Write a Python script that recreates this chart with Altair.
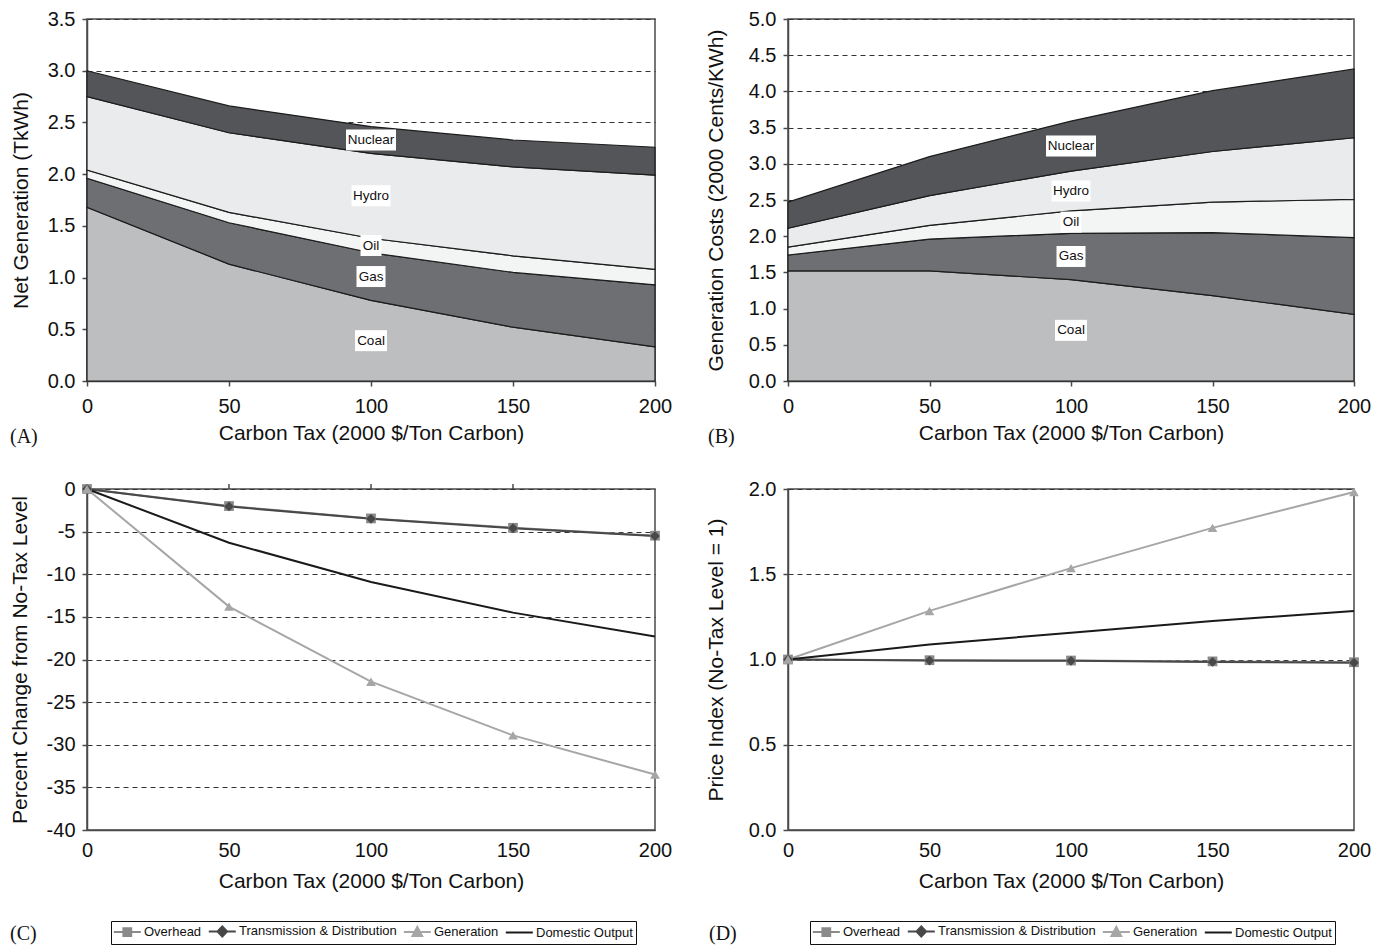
import altair as alt
import pandas as pd

# ---------------- data ----------------
tax = [0, 50, 100, 150, 200]
fuels = ["Coal", "Gas", "Oil", "Hydro", "Nuclear"]

# (A) Net generation, TkWh, stacked
gen_coal = [1.68, 1.13, 0.78, 0.52, 0.33]
gen_gas = [0.28, 0.40, 0.46, 0.53, 0.60]
gen_oil = [0.08, 0.10, 0.14, 0.16, 0.15]
gen_hydro = [0.71, 0.77, 0.82, 0.86, 0.91]
gen_nuclear = [0.25, 0.26, 0.26, 0.26, 0.27]

# (B) Generation costs, 2000 cents/kWh, stacked
cost_coal = [1.52, 1.52, 1.40, 1.18, 0.92]
cost_gas = [0.22, 0.44, 0.64, 0.87, 1.06]
cost_oil = [0.11, 0.19, 0.31, 0.42, 0.53]
cost_hydro = [0.26, 0.41, 0.55, 0.70, 0.85]
cost_nuclear = [0.36, 0.54, 0.69, 0.84, 0.95]

series = ["Overhead", "Transmission & Distribution", "Generation", "Domestic Output"]

# (C) Percent change from no-tax level
pct_overhead = [0, -2.0, -3.45, -4.55, -5.48]
pct_td = [0, -2.05, -3.5, -4.6, -5.52]
pct_generation = [0, -13.8, -22.6, -28.9, -33.5]
pct_domestic = [0, -6.3, -10.9, -14.5, -17.3]

# (D) Price index (no-tax level = 1)
idx_overhead = [1.0, 0.996, 0.994, 0.989, 0.984]
idx_td = [1.0, 0.994, 0.992, 0.986, 0.981]
idx_generation = [1.0, 1.285, 1.536, 1.772, 1.982]
idx_domestic = [1.0, 1.088, 1.157, 1.226, 1.285]

x_ticks = [0, 50, 100, 150, 200]
c_top_ticks = [50, 100, 150]
gen_ticks = [0, 0.5, 1.0, 1.5, 2.0, 2.5, 3.0, 3.5]
cost_ticks = [0, 0.5, 1.0, 1.5, 2.0, 2.5, 3.0, 3.5, 4.0, 4.5, 5.0]
pct_ticks = [-40, -35, -30, -25, -20, -15, -10, -5, 0]
idx_ticks = [0, 0.5, 1.0, 1.5, 2.0]

# ---------------- styles ----------------
SANS = "Liberation Sans"
SERIF = "Liberation Serif"
AXIS_COLOR = "#4a4a4a"
FUEL_COLORS = ["#bdbec0", "#6e6f72", "#f3f4f4", "#eaebec", "#545558"]
BOX_W = {"Coal": 32, "Gas": 29, "Oil": 21, "Hydro": 39, "Nuclear": 50}
SER_COLORS = ["#8a8a8a", "#484848", "#a6a6a6", "#1a1a1a"]
SER_SHAPES = ["square", "diamond", "triangle-up"]
LEG_PATHS = [
    "M-1.2,0L3.3,0M0.4,-0.65L1.7,-0.65L1.7,0.65L0.4,0.65Z",
    "M-1.2,0L3.3,0M1.05,-0.85L1.85,0L1.05,0.85L0.25,0Z",
    "M-1.2,0L3.3,0M1.05,-0.85L1.85,0.65L0.25,0.65Z",
    "M-1.2,0L3.3,0",
]
XTITLE = "Carbon Tax (2000 $/Ton Carbon)"
XSCALE = alt.Scale(domain=[0, 200], nice=False)


def x_enc(show=True, ticks=True, title_pad=6):
    if not show:
        return alt.X("tax:Q", scale=XSCALE, axis=None)
    return alt.X(
        "tax:Q", scale=XSCALE,
        axis=alt.Axis(values=x_ticks, title=XTITLE, grid=False, labelFlush=False,
                      format="d", orient="bottom", ticks=ticks, titlePadding=title_pad),
    )


def y_axis(yticks, ytitle, title_x, h, fmt=".1f", expr=None):
    kw = dict(values=yticks, title=ytitle, grid=True, labelFlush=False,
              titleX=title_x, titleY=h / 2, titleBaseline="middle", titleAngle=270)
    if expr:
        kw["labelExpr"] = expr
    else:
        kw["format"] = fmt
    return alt.Axis(**kw)


def tag_layer(tag, dx, dy):
    return alt.Chart(pd.DataFrame({"t": [tag]})).mark_text(
        align="left", baseline="middle", font=SERIF, fontSize=20, color="#111"
    ).encode(x=alt.value(dx), y=alt.value(dy), text="t:N")


def stack_frames(cols):
    rows, labs, cum = [], [], 0.0
    for k, f in enumerate(fuels):
        for t, v in zip(tax, cols[k]):
            rows.append({"tax": t, "value": v, "fuel": f, "order": k})
        mid_v = cols[k][2]
        labs.append({"tax": tax[2], "value": cum + mid_v / 2, "fuel": f})
        cum += mid_v
    return pd.DataFrame(rows), pd.DataFrame(labs)


def area_panel(cols, ytitle, yticks, ymax, w, h, tag, tag_dx, tag_dy, title_x):
    df, lab = stack_frames(cols)
    ys = alt.Scale(domain=[0, ymax], nice=False)
    yaxis = y_axis(yticks, ytitle, title_x, h)
    area = alt.Chart(df).mark_area(stroke="#1c1c1c", strokeWidth=1.2).encode(
        x=x_enc(),
        y=alt.Y("value:Q", stack="zero", scale=ys, axis=yaxis),
        color=alt.Color("fuel:N", scale=alt.Scale(domain=fuels, range=FUEL_COLORS), legend=None),
        order=alt.Order("order:Q", sort="ascending"),
    )
    layers = [area]
    for f in fuels:
        layers.append(
            alt.Chart(lab[lab.fuel == f]).mark_rect(width=BOX_W[f], height=21, color="white").encode(
                x=x_enc(), y=alt.Y("value:Q", scale=ys, axis=yaxis)
            )
        )
    layers.append(
        alt.Chart(lab).mark_text(font=SANS, fontSize=13.5, color="#111").encode(
            x=x_enc(), y=alt.Y("value:Q", scale=ys, axis=yaxis), text="fuel:N"
        )
    )
    layers.append(tag_layer(tag, tag_dx, tag_dy))
    return alt.layer(*layers).properties(width=w, height=h)


def line_panel(vals, ytitle, yticks, ydom, w, h, tag, tag_dx, tag_dy, legx, legy,
               title_x, fmt=".1f", expr=None, top_ticks=False):
    rows = []
    for k, s in enumerate(series):
        for t, v in zip(tax, vals[k]):
            rows.append({"tax": t, "value": v, "series": s})
    df = pd.DataFrame(rows)
    ys = alt.Scale(domain=ydom, nice=False)
    yaxis = y_axis(yticks, ytitle, title_x, h, fmt, expr)
    y = alt.Y("value:Q", scale=ys, axis=yaxis)
    color = alt.Color("series:N", scale=alt.Scale(domain=series, range=SER_COLORS), legend=None)
    lines = alt.Chart(df).mark_line(strokeWidth=2).encode(
        x=x_enc(ticks=False, title_pad=10), y=y, color=color)
    markers = alt.Chart(df[df.series != "Domestic Output"]).mark_point(
        filled=True, size=95, opacity=1
    ).encode(
        x=x_enc(show=False), y=y, color=color,
        shape=alt.Shape("series:N", scale=alt.Scale(domain=series[:3], range=SER_SHAPES), legend=None),
    )
    leg = alt.Legend(
        orient="none", legendX=legx, legendY=legy, direction="horizontal", columns=4,
        title=None, labelFont=SANS, labelFontSize=13, labelColor="#111", labelLimit=400,
        labelOffset=16, columnPadding=2, padding=3, strokeColor="#111",
        symbolSize=144, symbolStrokeWidth=2, symbolOpacity=1,
    )
    legend_layer = alt.Chart(df).transform_filter("false").mark_point(filled=False, opacity=1).encode(
        x=x_enc(show=False), y=y,
        fill=alt.Fill("series:N", scale=alt.Scale(domain=series, range=SER_COLORS), legend=leg),
        stroke=alt.Stroke("series:N", scale=alt.Scale(domain=series, range=SER_COLORS), legend=leg),
        shape=alt.Shape("series:N", scale=alt.Scale(domain=series, range=LEG_PATHS), legend=leg),
    )
    layers = [lines, markers, legend_layer]
    if top_ticks:
        # tick marks on the top edge (the x axis crosses at y = 0 in this panel)
        layers.append(
            alt.Chart(pd.DataFrame({"tax": c_top_ticks})).mark_rule(
                color=AXIS_COLOR, strokeWidth=1.5
            ).encode(x=x_enc(show=False), y=alt.value(-5), y2=alt.value(0))
        )
    layers.append(tag_layer(tag, tag_dx, tag_dy))
    return alt.layer(*layers).resolve_scale(
        shape="independent", fill="independent", stroke="independent"
    ).resolve_axis(x="independent").properties(width=w, height=h)


panel_a = area_panel([gen_coal, gen_gas, gen_oil, gen_hydro, gen_nuclear],
                     "Net Generation (TkWh)", gen_ticks, 3.5, 568, 362, "(A)", -77, 418, -66)
panel_b = area_panel([cost_coal, cost_gas, cost_oil, cost_hydro, cost_nuclear],
                     "Generation Costs (2000 Cents/KWh)", cost_ticks, 5.0, 566, 362, "(B)", -80, 418, -72)
panel_c = line_panel([pct_overhead, pct_td, pct_generation, pct_domestic],
                     "Percent Change from No-Tax Level", pct_ticks, [-40, 0],
                     568, 341, "(C)", -77, 445, 24, 432, -67,
                     expr="'' + datum.value", top_ticks=True)
panel_d = line_panel([idx_overhead, idx_td, idx_generation, idx_domestic],
                     "Price Index (No-Tax Level = 1)", idx_ticks, [0, 2],
                     566, 341, "(D)", -79, 445, 22, 432, -72, fmt=".1f")

RES = dict(color="independent", fill="independent", stroke="independent", shape="independent")

chart = (
    alt.concat(panel_a, panel_b, panel_c, panel_d, columns=2,
               spacing={"row": 108, "column": 133}, bounds="flush")
    .resolve_scale(**RES)
    .properties(padding=0)
    .configure(background="white")
    .configure_axis(
        labelFont=SANS, labelFontSize=20, labelColor="#111",
        titleFont=SANS, titleFontSize=21, titleFontWeight="normal", titleColor="#111",
        domainColor=AXIS_COLOR, domainWidth=1.5, tickColor=AXIS_COLOR, tickWidth=1.5, tickSize=5,
        gridColor="#333333", gridDash=[5, 4], gridWidth=1,
    )
    .configure_axisX(labelPadding=10)
    .configure_axisY(labelPadding=7)
    .configure_view(stroke=AXIS_COLOR, strokeWidth=1.5)
)

chart.save("out.html", embed_options={"renderer": "svg", "actions": False})
